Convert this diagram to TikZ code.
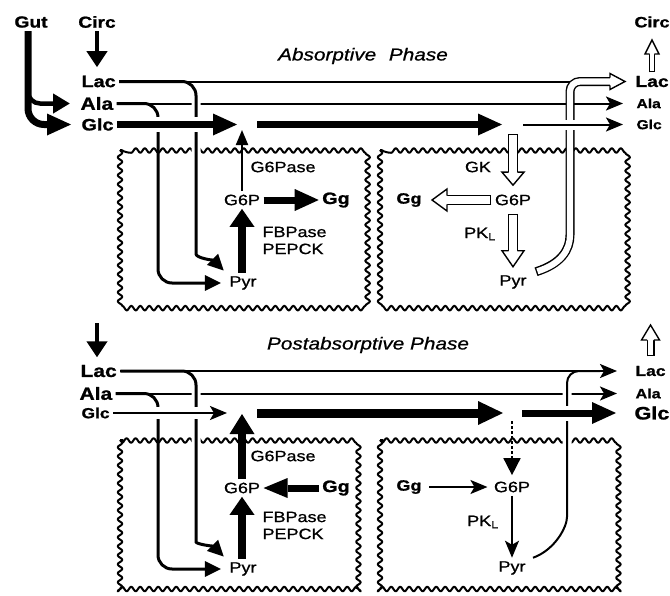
\documentclass[tikz,border=0pt]{standalone}
\usepackage{fontspec}
\setmainfont{Liberation Sans}[FakeStretch=1.2,BoldFeatures={FakeBold=1.2}]
\newfontfamily\medium{Liberation Sans}[FakeStretch=1.2,FakeBold=0.8]
\usetikzlibrary{arrows.meta,positioning,decorations.pathmorphing}

\tikzset{
  pics/hollowtip/.style n args={3}{code={
      \fill[white] (-#2,-#1) -- (0,0) -- (-#2,#1) -- cycle;
      \draw[line width=1.4pt,line join=miter] (-#2,-#3) -- (-#2,-#1) -- (0,0) -- (-#2,#1) -- (-#2,#3);
    }},
  hollowflow/.style n args={3}{line width=#1,shorten >=#3,
      postaction={draw=white,line width=#2,shorten >=#3-1pt,shorten <=1.4pt}}
}

\begin{document}
\begin{tikzpicture}[x=1pt,y=-1pt,>={Stealth[length=17pt,width=14pt,inset=4pt]},
      met/.style={font=\bfseries\fontsize{#1}{#1}\selectfont}, met/.default=16,
      enz/.style={font=\medium\fontsize{15}{17}\selectfont},
      phase/.style={font=\medium\itshape\fontsize{17.3}{18}\selectfont},
      cell/.style={line width=2pt,line join=round,decorate,
        decoration={snake,segment length=9pt,amplitude=2.3pt}},
      fine/.style={line width=2pt,->},
      side/.style={line width=3pt,rounded corners=14pt,-{Triangle[length=16pt,width=15pt]}},
      fat/.style={line width=7pt,-{Triangle[length=24pt,width=22pt,line width=0pt]}},
      heavy/.style={line width=9pt,-{Triangle[length=25pt,width=24pt,line width=0pt]}},
      overpass/.style={preaction={draw=white,line width=#1,-}}]
      \useasboundingbox (0,0) rectangle (670,595);
      \draw[cell] (120,150) rectangle (362,303);
      \draw[cell] (380,150) rectangle (622,303);
      \draw[cell] (120,440) rectangle (362,589);
      \draw[cell] (380,440) rectangle (622,589);

      \node[met] (gut) at (31,22) {Gut};
      \node[met] (circIn) at (97,22) {Circ};
      \node[met=15] (circOut) at (652,22) {Circ};
      \node[phase] (absorb) at (363,56) {Absorptive\hspace{0.4em} Phase};
      \node[met=16.5,anchor=west] (lacIn) at (78,81.5) {Lac};
      \node[met=17.5,anchor=west] (alaIn) at (77,103.5) {Ala};
      \node[met=16.5,anchor=west] (glcIn) at (78,124.5) {Glc};
      \node[met=16,anchor=west] (lacOut) at (632,81.5) {Lac};
      \node[met=13,anchor=west] (alaOut) at (633,103.5) {Ala};
      \node[met=13,anchor=west] (glcOut) at (633,124.5) {Glc};
      \node[enz] (gsixA) at (242,200) {G6P};
      \node[enz,anchor=west] (gpaseA) at (247,167) {G6Pase};
      \node[met=16.5] (ggA) at (336,200) {Gg};
      \node[enz,anchor=west,align=left] (fbpA) at (259,240.5) {FBPase\\PEPCK};
      \node[enz] (pyrA) at (243,283) {Pyr};
      \node[enz] (gkA) at (478,167) {GK};
      \node[met=15] (ggB) at (409,200) {Gg};
      \node[enz] (gsixB) at (513,200) {G6P};
      \node[enz] (pklA) at (480,234) {PK\textsubscript{L}};
      \node[enz] (pyrB) at (513,282) {Pyr};
      \coordinate (inA) at (237,124.5);
      \coordinate (outA) at (242,130);
      \coordinate (midA1) at (257,124.5);
      \coordinate (midA2) at (502,124.5);
      \coordinate (glcA3) at (523,124.5);
      \coordinate (gkTop) at (513,134);
      \coordinate (lacDnA) at (196,240);
      \coordinate (alaDnA) at (158,200);
      \coordinate (dblA) at (570,225);

      \draw[line width=4pt,-{Triangle[length=16pt,width=20pt]},shorten >=5pt] (circIn.south) -- (circIn.south |- lacIn.north);
      \draw[side,line width=4.5pt,-{Triangle[length=17pt,width=19pt]},shorten >=7pt,rounded corners=12pt] ([xshift=-3pt]gut.south) |- (alaIn.west);
      \draw[fat,rounded corners=16pt,shorten >=7pt] ([xshift=-3pt]gut.south) |- (glcIn.west);
      \draw[fine,shorten >=10pt] (alaIn.east) -- (alaOut.west);
      \draw[side,shorten >=5pt] (alaIn.east) -| (alaDnA) |- (pyrA.west);
      \draw[side,overpass=9pt,shorten >=3pt] (lacIn.east) -| (lacDnA) .. controls +(0,18) and +(-12,-12) .. (pyrA.north west);
      \draw[line width=2pt] (lacIn.east) -- (dblA |- lacIn.east);
      \draw[fat,overpass=15pt] (glcIn.east) -- (inA);
      \draw[line width=2pt,-{Triangle[length=15pt,width=12pt]}] (gsixA.north) -- (outA);
      \draw[fat] (midA1) -- (midA2);
      \draw[fat,line width=8pt,-{Triangle[length=18pt,width=25pt,line width=0pt]}] (gsixA.south |- pyrA.north) -- (gsixA.south);
      \draw[fat] (gsixA.east) -- (ggA.west);
      \draw[hollowflow={10pt}{7.2pt}{13pt}] (gkTop) -- ([yshift=6pt]gsixB.north);
      \pic[rotate=-90] at ([yshift=6pt]gsixB.north) {hollowtip={11}{13}{4.3}};
      \draw[hollowflow={10pt}{7.2pt}{15pt}] (gsixB.west) -- ([xshift=7pt]ggB.east);
      \pic[rotate=180] at ([xshift=7pt]ggB.east) {hollowtip={11}{15}{4.3}};
      \draw[hollowflow={10pt}{7.2pt}{16pt}] ([yshift=-5pt]gsixB.south) -- ([yshift=5pt]pyrB.north);
      \pic[rotate=-90] at ([yshift=5pt]pyrB.north) {hollowtip={11}{16}{4.3}};
      \draw[hollowflow={9pt}{6.2pt}{15pt},rounded corners=10pt] ([xshift=6pt]pyrB.north east) .. controls +(25,-8) and +(0,25) .. (dblA) |- ([xshift=-7pt]lacOut.west);
      \pic at ([xshift=-7pt]lacOut.west) {hollowtip={8}{15}{3.8}};
      \draw[fine,overpass=10pt,shorten >=10pt] (glcA3) -- (glcOut.west);
      \draw[hollowflow={6pt}{3.2pt}{14pt}] (circOut.south |- lacOut.north) -- ([yshift=-9pt]circOut.south);
      \pic[rotate=90] at ([yshift=-9pt]circOut.south) {hollowtip={7}{14}{2.3}};

      \node[phase] (postab) at (368,345) {Postabsorptive Phase};
      \node[met=17.5,anchor=west] (lacC) at (77,371) {Lac};
      \node[met=17.5,anchor=west] (alaC) at (76,393.5) {Ala};
      \node[met=14.5,anchor=west] (glcC) at (78,413) {Glc};
      \node[met=14.5,anchor=west] (lacD) at (632,371) {Lac};
      \node[met=13.5,anchor=west] (alaD) at (632,393.5) {Ala};
      \node[met=18,anchor=west] (glcD) at (631,413) {Glc};
      \node[enz] (gsixC) at (242,488) {G6P};
      \node[enz,anchor=west] (gpaseB) at (247,456) {G6Pase};
      \node[met=16.5] (ggC) at (336,488) {Gg};
      \node[enz,anchor=west,align=left] (fbpB) at (259,525.5) {FBPase\\PEPCK};
      \node[enz] (pyrC) at (243,569) {Pyr};
      \node[met=15] (ggD) at (409,487) {Gg};
      \node[enz] (gsixD) at (512,487) {G6P};
      \node[enz] (pklB) at (483,522) {PK\textsubscript{L}};
      \node[enz] (pyrD) at (512,568) {Pyr};
      \coordinate (postIn) at (97,323);
      \coordinate (postOut) at (650,325);
      \coordinate (inB) at (227,413);
      \coordinate (outB) at (242,414);
      \coordinate (midB1) at (257,413);
      \coordinate (midB2) at (503,413);
      \coordinate (glcB3) at (522,413);
      \coordinate (dotTop) at (512,421);
      \coordinate (lacDnB) at (196,528);
      \coordinate (alaDnB) at (158,490);
      \coordinate (upB) at (567,505);
      \coordinate (mrgB) at (600,371);

      \draw[line width=4pt,-{Triangle[length=16pt,width=20pt]},shorten >=4pt] (postIn) -- (postIn |- lacC.north);
      \draw[hollowflow={8pt}{5.2pt}{15pt}] ([yshift=6pt]lacD.north) -- (lacD.north |- postOut);
      \pic[rotate=90] at (lacD.north |- postOut) {hollowtip={9}{15}{3.3}};
      \draw[fine,shorten >=15pt] (alaC.east) -- (alaD.west);
      \draw[side,shorten >=5pt] (alaC.east) -| (alaDnB) |- (pyrC.west);
      \draw[side,overpass=9pt,shorten >=3pt] (lacC.east) -| (lacDnB) .. controls +(0,16) and +(-12,-12) .. (pyrC.north west);
      \draw[line width=2pt,rounded corners=12pt,overpass=9pt] ([xshift=4pt]pyrD.north east) .. controls +(22,-8) and +(0,22) .. (upB) |- (mrgB);
      \draw[fine,shorten >=15pt] (lacC.east) -- (lacD.west);
      \draw[fine,overpass=12pt] (glcC.east) -- (inB);
      \draw[fat,line width=8pt,-{Triangle[length=20pt,width=25pt,line width=0pt]}] (gsixC.north) -- (outB);
      \draw[heavy] (midB1) -- (midB2);
      \draw[fat,overpass=15pt,shorten >=15pt] (glcB3) -- (glcD.west);
      \draw[line width=1.6pt,dash pattern=on 3pt off 2pt,-{Triangle[length=17pt,width=17pt]},shorten >=3pt] (dotTop) -- (gsixD.north);
      \draw[fat,line width=8pt,-{Triangle[length=18pt,width=25pt,line width=0pt]}] (gsixC.south |- pyrC.north) -- (gsixC.south);
      \draw[fat,-{Triangle[length=24pt,width=20pt,line width=0pt]}] (ggC.west) -- (gsixC.east);
      \draw[fine,shorten <=4pt,shorten >=3pt] (ggD.east) -- (gsixD.west);
      \draw[fine] (gsixD.south) -- (pyrD.north);
\end{tikzpicture}
\end{document}
